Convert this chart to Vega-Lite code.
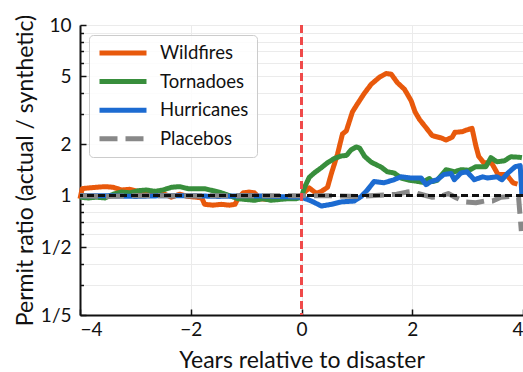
{
  "$schema": "https://vega.github.io/schema/vega-lite/v6.json",
  "autosize": {"type": "none"},
  "padding": {"left": 80, "top": 25, "right": 0, "bottom": 57},
  "width": 443,
  "height": 290,
  "background": "white",
  "config": {
    "font": "Lato",
    "view": {"stroke": null},
    "axis": {
      "labelFont": "Lato",
      "titleFont": "Lato",
      "labelFontSize": 19,
      "titleFontSize": 23,
      "titleFontWeight": "normal",
      "labelColor": "#111111",
      "titleColor": "#111111",
      "domainColor": "#111111",
      "domainWidth": 2,
      "tickColor": "#111111",
      "tickWidth": 1.5,
      "gridColor": "#ebebeb",
      "gridWidth": 1
    },
    "legend": {
      "labelFont": "Lato",
      "labelFontSize": 18.5,
      "labelColor": "#111111"
    }
  },
  "data": {
    "values": [
      {"series": "Wildfires", "t": -4.0, "ratio": 0.96},
      {"series": "Wildfires", "t": -3.96, "ratio": 1.1},
      {"series": "Wildfires", "t": -3.85, "ratio": 1.11},
      {"series": "Wildfires", "t": -3.7, "ratio": 1.12},
      {"series": "Wildfires", "t": -3.55, "ratio": 1.13},
      {"series": "Wildfires", "t": -3.4, "ratio": 1.12},
      {"series": "Wildfires", "t": -3.25, "ratio": 1.08},
      {"series": "Wildfires", "t": -3.1, "ratio": 1.09},
      {"series": "Wildfires", "t": -2.95, "ratio": 1.06},
      {"series": "Wildfires", "t": -2.8, "ratio": 1.05},
      {"series": "Wildfires", "t": -2.65, "ratio": 1.06},
      {"series": "Wildfires", "t": -2.5, "ratio": 1.03},
      {"series": "Wildfires", "t": -2.35, "ratio": 0.98},
      {"series": "Wildfires", "t": -2.2, "ratio": 1.02},
      {"series": "Wildfires", "t": -2.05, "ratio": 0.99},
      {"series": "Wildfires", "t": -1.9, "ratio": 0.98},
      {"series": "Wildfires", "t": -1.8, "ratio": 0.97},
      {"series": "Wildfires", "t": -1.75, "ratio": 0.89},
      {"series": "Wildfires", "t": -1.6, "ratio": 0.88},
      {"series": "Wildfires", "t": -1.45, "ratio": 0.89},
      {"series": "Wildfires", "t": -1.3, "ratio": 0.88},
      {"series": "Wildfires", "t": -1.2, "ratio": 0.89},
      {"series": "Wildfires", "t": -1.15, "ratio": 0.96},
      {"series": "Wildfires", "t": -1.05, "ratio": 1.04},
      {"series": "Wildfires", "t": -0.95, "ratio": 1.05},
      {"series": "Wildfires", "t": -0.85, "ratio": 1.04},
      {"series": "Wildfires", "t": -0.75, "ratio": 0.96},
      {"series": "Wildfires", "t": -0.6, "ratio": 0.95},
      {"series": "Wildfires", "t": -0.45, "ratio": 0.96},
      {"series": "Wildfires", "t": -0.3, "ratio": 0.97},
      {"series": "Wildfires", "t": -0.15, "ratio": 0.98},
      {"series": "Wildfires", "t": 0.0, "ratio": 1.0},
      {"series": "Wildfires", "t": 0.07, "ratio": 1.06},
      {"series": "Wildfires", "t": 0.14, "ratio": 1.11},
      {"series": "Wildfires", "t": 0.22, "ratio": 1.06},
      {"series": "Wildfires", "t": 0.27, "ratio": 1.03},
      {"series": "Wildfires", "t": 0.36, "ratio": 1.06},
      {"series": "Wildfires", "t": 0.47, "ratio": 1.12},
      {"series": "Wildfires", "t": 0.54, "ratio": 1.35},
      {"series": "Wildfires", "t": 0.65, "ratio": 1.75},
      {"series": "Wildfires", "t": 0.74, "ratio": 2.3},
      {"series": "Wildfires", "t": 0.81, "ratio": 2.4},
      {"series": "Wildfires", "t": 0.92, "ratio": 3.1},
      {"series": "Wildfires", "t": 1.01, "ratio": 3.45},
      {"series": "Wildfires", "t": 1.14, "ratio": 4.0},
      {"series": "Wildfires", "t": 1.26, "ratio": 4.5},
      {"series": "Wildfires", "t": 1.41, "ratio": 4.95},
      {"series": "Wildfires", "t": 1.53, "ratio": 5.2},
      {"series": "Wildfires", "t": 1.62, "ratio": 5.15},
      {"series": "Wildfires", "t": 1.73, "ratio": 4.6},
      {"series": "Wildfires", "t": 1.86, "ratio": 4.2},
      {"series": "Wildfires", "t": 1.98, "ratio": 3.6},
      {"series": "Wildfires", "t": 2.05, "ratio": 3.1},
      {"series": "Wildfires", "t": 2.13, "ratio": 2.8},
      {"series": "Wildfires", "t": 2.25, "ratio": 2.5},
      {"series": "Wildfires", "t": 2.36, "ratio": 2.25},
      {"series": "Wildfires", "t": 2.52, "ratio": 2.18},
      {"series": "Wildfires", "t": 2.61, "ratio": 2.12},
      {"series": "Wildfires", "t": 2.72, "ratio": 2.2},
      {"series": "Wildfires", "t": 2.77, "ratio": 2.35},
      {"series": "Wildfires", "t": 2.9, "ratio": 2.37},
      {"series": "Wildfires", "t": 2.97, "ratio": 2.42},
      {"series": "Wildfires", "t": 3.08, "ratio": 2.48},
      {"series": "Wildfires", "t": 3.15, "ratio": 1.95},
      {"series": "Wildfires", "t": 3.2, "ratio": 1.7},
      {"series": "Wildfires", "t": 3.29, "ratio": 1.56},
      {"series": "Wildfires", "t": 3.43, "ratio": 1.56},
      {"series": "Wildfires", "t": 3.55, "ratio": 1.33},
      {"series": "Wildfires", "t": 3.7, "ratio": 1.33},
      {"series": "Wildfires", "t": 3.82, "ratio": 1.19},
      {"series": "Wildfires", "t": 3.9, "ratio": 1.17},

      {"series": "Tornadoes", "t": -4.0, "ratio": 0.98},
      {"series": "Tornadoes", "t": -3.85, "ratio": 0.97},
      {"series": "Tornadoes", "t": -3.7, "ratio": 0.98},
      {"series": "Tornadoes", "t": -3.55, "ratio": 0.97},
      {"series": "Tornadoes", "t": -3.4, "ratio": 1.02},
      {"series": "Tornadoes", "t": -3.25, "ratio": 1.05},
      {"series": "Tornadoes", "t": -3.1, "ratio": 1.04},
      {"series": "Tornadoes", "t": -2.95, "ratio": 1.07},
      {"series": "Tornadoes", "t": -2.8, "ratio": 1.08},
      {"series": "Tornadoes", "t": -2.65, "ratio": 1.06},
      {"series": "Tornadoes", "t": -2.5, "ratio": 1.08},
      {"series": "Tornadoes", "t": -2.35, "ratio": 1.12},
      {"series": "Tornadoes", "t": -2.2, "ratio": 1.13},
      {"series": "Tornadoes", "t": -2.05, "ratio": 1.1},
      {"series": "Tornadoes", "t": -1.9, "ratio": 1.1},
      {"series": "Tornadoes", "t": -1.75, "ratio": 1.1},
      {"series": "Tornadoes", "t": -1.6, "ratio": 1.07},
      {"series": "Tornadoes", "t": -1.45, "ratio": 1.04},
      {"series": "Tornadoes", "t": -1.3, "ratio": 1.0},
      {"series": "Tornadoes", "t": -1.15, "ratio": 0.96},
      {"series": "Tornadoes", "t": -1.0, "ratio": 0.95},
      {"series": "Tornadoes", "t": -0.85, "ratio": 0.94},
      {"series": "Tornadoes", "t": -0.7, "ratio": 0.96},
      {"series": "Tornadoes", "t": -0.55, "ratio": 0.94},
      {"series": "Tornadoes", "t": -0.4, "ratio": 0.95},
      {"series": "Tornadoes", "t": -0.25, "ratio": 0.96},
      {"series": "Tornadoes", "t": -0.1, "ratio": 0.96},
      {"series": "Tornadoes", "t": 0.0, "ratio": 0.98},
      {"series": "Tornadoes", "t": 0.05, "ratio": 1.11},
      {"series": "Tornadoes", "t": 0.14, "ratio": 1.28},
      {"series": "Tornadoes", "t": 0.23, "ratio": 1.36},
      {"series": "Tornadoes", "t": 0.36, "ratio": 1.46},
      {"series": "Tornadoes", "t": 0.47, "ratio": 1.56},
      {"series": "Tornadoes", "t": 0.59, "ratio": 1.65},
      {"series": "Tornadoes", "t": 0.72, "ratio": 1.71},
      {"series": "Tornadoes", "t": 0.81, "ratio": 1.72},
      {"series": "Tornadoes", "t": 0.9, "ratio": 1.86},
      {"series": "Tornadoes", "t": 0.99, "ratio": 1.93},
      {"series": "Tornadoes", "t": 1.05, "ratio": 1.9},
      {"series": "Tornadoes", "t": 1.14, "ratio": 1.7},
      {"series": "Tornadoes", "t": 1.26, "ratio": 1.57},
      {"series": "Tornadoes", "t": 1.44, "ratio": 1.47},
      {"series": "Tornadoes", "t": 1.55, "ratio": 1.38},
      {"series": "Tornadoes", "t": 1.67, "ratio": 1.36},
      {"series": "Tornadoes", "t": 1.8, "ratio": 1.27},
      {"series": "Tornadoes", "t": 1.95, "ratio": 1.23},
      {"series": "Tornadoes", "t": 2.04, "ratio": 1.22},
      {"series": "Tornadoes", "t": 2.18, "ratio": 1.2},
      {"series": "Tornadoes", "t": 2.31, "ratio": 1.26},
      {"series": "Tornadoes", "t": 2.36, "ratio": 1.21},
      {"series": "Tornadoes", "t": 2.45, "ratio": 1.23},
      {"series": "Tornadoes", "t": 2.61, "ratio": 1.42},
      {"series": "Tornadoes", "t": 2.76, "ratio": 1.38},
      {"series": "Tornadoes", "t": 2.88, "ratio": 1.42},
      {"series": "Tornadoes", "t": 3.03, "ratio": 1.41},
      {"series": "Tornadoes", "t": 3.15, "ratio": 1.48},
      {"series": "Tornadoes", "t": 3.33, "ratio": 1.48},
      {"series": "Tornadoes", "t": 3.42, "ratio": 1.67},
      {"series": "Tornadoes", "t": 3.53, "ratio": 1.58},
      {"series": "Tornadoes", "t": 3.66, "ratio": 1.6},
      {"series": "Tornadoes", "t": 3.78, "ratio": 1.69},
      {"series": "Tornadoes", "t": 3.93, "ratio": 1.68},
      {"series": "Tornadoes", "t": 3.98, "ratio": 1.67},

      {"series": "Hurricanes", "t": -4.0, "ratio": 1.0},
      {"series": "Hurricanes", "t": -3.5, "ratio": 1.0},
      {"series": "Hurricanes", "t": -3.0, "ratio": 0.99},
      {"series": "Hurricanes", "t": -2.5, "ratio": 1.0},
      {"series": "Hurricanes", "t": -2.0, "ratio": 1.0},
      {"series": "Hurricanes", "t": -1.5, "ratio": 0.99},
      {"series": "Hurricanes", "t": -1.0, "ratio": 1.0},
      {"series": "Hurricanes", "t": -0.5, "ratio": 0.99},
      {"series": "Hurricanes", "t": 0.0, "ratio": 0.98},
      {"series": "Hurricanes", "t": 0.18, "ratio": 0.93},
      {"series": "Hurricanes", "t": 0.36, "ratio": 0.87},
      {"series": "Hurricanes", "t": 0.54, "ratio": 0.89},
      {"series": "Hurricanes", "t": 0.72, "ratio": 0.92},
      {"series": "Hurricanes", "t": 0.95, "ratio": 0.93},
      {"series": "Hurricanes", "t": 1.08, "ratio": 0.99},
      {"series": "Hurricanes", "t": 1.19, "ratio": 1.08},
      {"series": "Hurricanes", "t": 1.31, "ratio": 1.21},
      {"series": "Hurricanes", "t": 1.49, "ratio": 1.19},
      {"series": "Hurricanes", "t": 1.67, "ratio": 1.24},
      {"series": "Hurricanes", "t": 1.8, "ratio": 1.29},
      {"series": "Hurricanes", "t": 1.98, "ratio": 1.27},
      {"series": "Hurricanes", "t": 2.16, "ratio": 1.27},
      {"series": "Hurricanes", "t": 2.25, "ratio": 1.16},
      {"series": "Hurricanes", "t": 2.34, "ratio": 1.21},
      {"series": "Hurricanes", "t": 2.45, "ratio": 1.24},
      {"series": "Hurricanes", "t": 2.57, "ratio": 1.33},
      {"series": "Hurricanes", "t": 2.7, "ratio": 1.35},
      {"series": "Hurricanes", "t": 2.76, "ratio": 1.24},
      {"series": "Hurricanes", "t": 2.88, "ratio": 1.36},
      {"series": "Hurricanes", "t": 2.99, "ratio": 1.38},
      {"series": "Hurricanes", "t": 3.12, "ratio": 1.24},
      {"series": "Hurricanes", "t": 3.27, "ratio": 1.29},
      {"series": "Hurricanes", "t": 3.36, "ratio": 1.27},
      {"series": "Hurricanes", "t": 3.53, "ratio": 1.29},
      {"series": "Hurricanes", "t": 3.62, "ratio": 1.24},
      {"series": "Hurricanes", "t": 3.73, "ratio": 1.36},
      {"series": "Hurricanes", "t": 3.86, "ratio": 1.48},
      {"series": "Hurricanes", "t": 3.95, "ratio": 1.5},
      {"series": "Hurricanes", "t": 3.98, "ratio": 1.0},

      {"series": "Placebos", "t": -4.0, "ratio": 1.0},
      {"series": "Placebos", "t": -3.5, "ratio": 0.99},
      {"series": "Placebos", "t": -3.0, "ratio": 1.0},
      {"series": "Placebos", "t": -2.5, "ratio": 1.0},
      {"series": "Placebos", "t": -2.0, "ratio": 1.0},
      {"series": "Placebos", "t": -1.5, "ratio": 1.0},
      {"series": "Placebos", "t": -1.0, "ratio": 1.0},
      {"series": "Placebos", "t": -0.5, "ratio": 1.0},
      {"series": "Placebos", "t": 0.0, "ratio": 1.0},
      {"series": "Placebos", "t": 0.5, "ratio": 1.0},
      {"series": "Placebos", "t": 1.0, "ratio": 0.99},
      {"series": "Placebos", "t": 1.5, "ratio": 1.01},
      {"series": "Placebos", "t": 1.72, "ratio": 1.02},
      {"series": "Placebos", "t": 1.9, "ratio": 1.05},
      {"series": "Placebos", "t": 2.0, "ratio": 1.06},
      {"series": "Placebos", "t": 2.1, "ratio": 1.03},
      {"series": "Placebos", "t": 2.35, "ratio": 0.98},
      {"series": "Placebos", "t": 2.5, "ratio": 0.99},
      {"series": "Placebos", "t": 2.65, "ratio": 1.03},
      {"series": "Placebos", "t": 2.8, "ratio": 0.97},
      {"series": "Placebos", "t": 2.95, "ratio": 0.92},
      {"series": "Placebos", "t": 3.15, "ratio": 0.91},
      {"series": "Placebos", "t": 3.3, "ratio": 0.93},
      {"series": "Placebos", "t": 3.45, "ratio": 0.93},
      {"series": "Placebos", "t": 3.6, "ratio": 0.98},
      {"series": "Placebos", "t": 3.75, "ratio": 0.99},
      {"series": "Placebos", "t": 3.92, "ratio": 0.98},
      {"series": "Placebos", "t": 3.97, "ratio": 0.62}
    ]
  },
  "layer": [
    {
      "mark": {"type": "line", "strokeWidth": 5, "strokeJoin": "round", "strokeCap": "butt"},
      "encoding": {
        "x": {
          "field": "t",
          "type": "quantitative",
          "scale": {"domain": [-4, 4], "nice": false, "zero": false},
          "axis": {
            "title": "Years relative to disaster",
            "values": [-4, -2, 0, 2, 4],
            "format": "d",
            "grid": true,
            "tickSize": -6,
            "labelPadding": 11,
            "titlePadding": 10
          }
        },
        "y": {
          "field": "ratio",
          "type": "quantitative",
          "scale": {"type": "log", "domain": [0.2, 10], "nice": false},
          "axis": {
            "title": "Permit ratio (actual / synthetic)",
            "values": [0.2, 0.3, 0.4, 0.5, 0.6, 0.7, 0.8, 0.9, 1, 2, 3, 4, 5, 6, 7, 8, 9, 10],
            "labelExpr": "indexof([0.2, 0.5, 1, 2, 5, 10], datum.value) >= 0 ? (datum.value < 1 ? '1/' + format(1 / datum.value, 'd') : format(datum.value, 'd')) : ''",
            "grid": true,
            "tickSize": {"condition": {"test": "indexof([0.2, 0.5, 1, 2, 5, 10], datum.value) >= 0", "value": -6}, "value": -3.5},
            "labelPadding": 15,
            "titlePadding": 3
          }
        },
        "color": {
          "field": "series",
          "type": "nominal",
          "scale": {
            "domain": ["Wildfires", "Tornadoes", "Hurricanes", "Placebos"],
            "range": ["#e8590c", "#388e3c", "#1c6bd1", "#888888"]
          },
          "legend": {
            "title": null,
            "orient": "none",
            "legendX": 9,
            "legendY": 10,
            "symbolType": "stroke",
            "symbolSize": 2209,
            "symbolStrokeWidth": 5,
            "clipHeight": 20,
            "labelOffset": 11,
            "rowPadding": 8.6,
            "padding": 8,
            "strokeColor": "#cccccc",
            "fillColor": "rgba(255,255,255,0.85)",
            "cornerRadius": 4
          }
        },
        "strokeDash": {
          "field": "series",
          "type": "nominal",
          "scale": {
            "domain": ["Wildfires", "Tornadoes", "Hurricanes", "Placebos"],
            "range": [[1, 0], [1, 0], [1, 0], [18, 8]]
          },
          "legend": {
            "title": null,
            "orient": "none",
            "legendX": 9,
            "legendY": 10,
            "symbolType": "stroke",
            "symbolSize": 2209,
            "symbolStrokeWidth": 5,
            "clipHeight": 20,
            "labelOffset": 11,
            "rowPadding": 8.6,
            "padding": 8,
            "strokeColor": "#cccccc",
            "fillColor": "rgba(255,255,255,0.85)",
            "cornerRadius": 4
          }
        }
      }
    },
    {
      "mark": {"type": "rule", "color": "#111111", "strokeWidth": 2, "strokeDash": [7, 4]},
      "encoding": {"y": {"datum": 1}}
    },
    {
      "mark": {"type": "rule", "color": "#f04a4a", "strokeWidth": 2, "strokeDash": [8, 4]},
      "encoding": {"x": {"datum": 0}}
    }
  ]
}
